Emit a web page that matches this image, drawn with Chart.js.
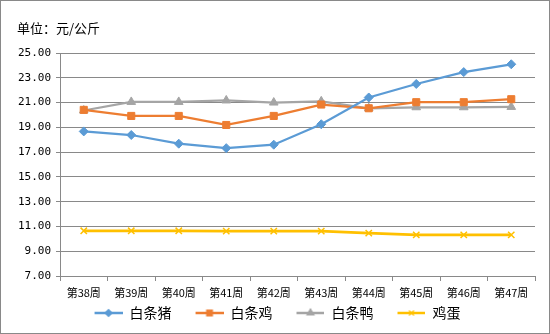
<!DOCTYPE html>
<html>
<head>
<meta charset="utf-8">
<script src="https://cdn.jsdelivr.net/npm/chart.js@4.4.0/dist/chart.umd.min.js"></script>
<style>
  html, body { margin: 0; padding: 0; background: #fff; }
  #wrap { width: 550px; height: 334px; }
</style>
</head>
<body>
<div id="wrap"><canvas id="priceChart" width="550" height="334"></canvas></div>
<script>
  const weeks = ["第38周", "第39周", "第40周", "第41周", "第42周", "第43周", "第44周", "第45周", "第46周", "第47周"];
  const pork = [18.67, 18.38, 17.68, 17.32, 17.6, 19.25, 21.41, 22.5, 23.46, 24.09];
  const chicken = [20.41, 19.92, 19.92, 19.19, 19.92, 20.84, 20.54, 21.03, 21.03, 21.27];
  const duck = [20.36, 21.05, 21.05, 21.17, 21.0, 21.1, 20.54, 20.62, 20.62, 20.65];
  const eggs = [10.65, 10.65, 10.65, 10.62, 10.62, 10.62, 10.46, 10.32, 10.32, 10.32];
  const unitLabel = "单位：元/公斤";

  const gridGray = "#898989";
  const cjk = "'Noto Sans CJK SC', 'DejaVu Sans', sans-serif";

  // legend symbol: short line with the series marker, blank space on the left
  // keeps the gap between neighbouring entries
  const ICON_GAP = 20;
  const ICON_LINE = 28;
  function legendIcon(color, style, radius, lineWidth) {
    const c = document.createElement("canvas");
    c.width = ICON_GAP + ICON_LINE;
    c.height = 12;
    const ctx = c.getContext("2d");
    ctx.strokeStyle = color;
    ctx.fillStyle = color;
    ctx.lineWidth = lineWidth;
    ctx.beginPath();
    ctx.moveTo(ICON_GAP, 6);
    ctx.lineTo(ICON_GAP + ICON_LINE, 6);
    ctx.stroke();
    ctx.lineWidth = 1.2;
    Chart.helpers.drawPoint(ctx, { pointStyle: style, radius: radius, borderWidth: 1.2 }, ICON_GAP + ICON_LINE / 2, 6);
    return c;
  }

  function series(label, data, color, style, radius, width) {
    return {
      label: label,
      data: data,
      borderColor: color,
      backgroundColor: color,
      borderWidth: width,
      pointStyle: style,
      pointRadius: radius,
      pointBorderColor: color,
      pointBackgroundColor: color,
      pointBorderWidth: style === "crossRot" ? 1.5 : 1,
      tension: 0,
      legendIcon: { color: color, style: style, radius: radius - 1 },
    };
  }

  const unitTitle = {
    id: "unitTitle",
    afterDraw(chart) {
      const ctx = chart.ctx;
      ctx.save();
      ctx.font = "13px " + cjk;
      ctx.fillStyle = "#000";
      ctx.textBaseline = "middle";
      ctx.fillText(unitLabel, 17, 28);
      ctx.strokeStyle = gridGray;
      ctx.lineWidth = 1;
      ctx.strokeRect(0.5, 0.5, chart.width - 1, chart.height - 1);
      ctx.restore();
    },
  };

  const datasets = [
    series("白条猪", pork, "#5B9BD5", "rectRot", 4.5, 2.25),
    series("白条鸡", chicken, "#ED7D31", "rect", 5, 2.25),
    series("白条鸭", duck, "#A5A5A5", "triangle", 5, 2.25),
    series("鸡蛋", eggs, "#FFC000", "crossRot", 4.5, 2.75),
  ];

  new Chart(document.getElementById("priceChart"), {
    type: "line",
    data: { labels: weeks, datasets: datasets },
    plugins: [unitTitle],
    options: {
      responsive: false,
      animation: false,
      layout: { padding: { top: 53, right: 15, left: 0, bottom: 4 } },
      plugins: {
        tooltip: { enabled: false },
        legend: {
          position: "bottom",
          labels: {
            usePointStyle: true,
            pointStyleWidth: ICON_GAP + ICON_LINE,
            padding: 4,
            color: "#000",
            font: { size: 14, family: cjk },
            generateLabels(chart) {
              return chart.data.datasets.map((ds, i) => ({
                text: ds.label,
                datasetIndex: i,
                pointStyle: legendIcon(ds.legendIcon.color, ds.legendIcon.style, ds.legendIcon.radius, 2.5),
                fillStyle: ds.borderColor,
                strokeStyle: ds.borderColor,
                lineWidth: 0,
                fontColor: "#000",
              }));
            },
          },
        },
      },
      scales: {
        x: {
          offset: true,
          afterFit(scale) { scale.height = 26; },
          grid: {
            offset: true,
            drawOnChartArea: false,
            drawTicks: true,
            tickLength: 5,
            color: gridGray,
          },
          border: { color: gridGray, width: 1 },
          ticks: {
            color: "#000",
            padding: 5,
            maxRotation: 0,
            autoSkip: false,
            font: { size: 11, family: cjk },
          },
        },
        y: {
          min: 7,
          max: 25,
          afterFit(scale) { scale.width = 60; },
          grid: { color: gridGray, tickLength: 4, lineWidth: 1 },
          border: { color: gridGray, width: 1 },
          ticks: {
            stepSize: 2,
            color: "#000",
            padding: 5,
            font: { size: 11, family: "'DejaVu Sans Mono', monospace" },
            callback: (v) => Number(v).toFixed(2),
          },
        },
      },
    },
  });
</script>
</body>
</html>
